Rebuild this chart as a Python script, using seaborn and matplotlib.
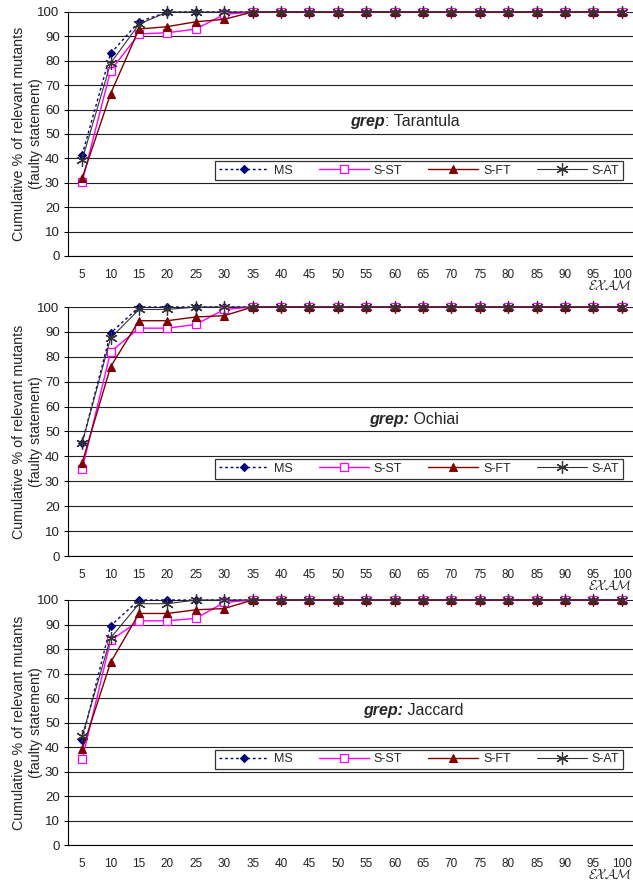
import numpy as np
import pandas as pd
import matplotlib
matplotlib.use("Agg")
import matplotlib.pyplot as plt
import seaborn as sns

# EXAM thresholds (categories on the x axis)
exam = [5, 10, 15, 20, 25, 30, 35, 40, 45, 50, 55, 60, 65, 70, 75, 80, 85, 90, 95, 100]
tail = [100] * 13

# cumulative % of relevant mutants, first 7 thresholds
tarantula_ms = [41.5, 83, 96, 100, 100, 100, 100] + tail
tarantula_sst = [30.5, 76, 91, 91.5, 93, 99, 100] + tail
tarantula_sft = [32, 66.5, 93, 94, 96, 97, 100] + tail
tarantula_sat = [39.5, 79, 95, 100, 100, 100, 100] + tail

ochiai_ms = [45.5, 89.5, 100, 100, 100, 100, 100] + tail
ochiai_sst = [35, 82, 91.5, 91.5, 93, 99, 100] + tail
ochiai_sft = [37.5, 76, 94.5, 94.5, 96, 96.5, 100] + tail
ochiai_sat = [45.5, 87.5, 99, 99, 100, 100, 100] + tail

jaccard_ms = [43, 89.5, 100, 100, 100, 100, 100] + tail
jaccard_sst = [35, 83.5, 91.5, 91.5, 92.5, 99, 100] + tail
jaccard_sft = [39, 74.5, 94.5, 94.5, 96, 96.5, 100] + tail
jaccard_sat = [44.5, 84.5, 98.5, 98.5, 100, 100, 100] + tail

series_names = ["MS", "S-ST", "S-FT", "S-AT"]
panels = [
    ("Tarantula", ": Tarantula", [tarantula_ms, tarantula_sst, tarantula_sft, tarantula_sat]),
    ("Ochiai", " Ochiai", [ochiai_ms, ochiai_sst, ochiai_sft, ochiai_sat]),
    ("Jaccard", " Jaccard", [jaccard_ms, jaccard_sst, jaccard_sft, jaccard_sat]),
]

styles = {
    "MS": dict(color="#000080", marker="D", linestyle=(0, (2, 2)), markersize=4.5,
               linewidth=1.0, markeredgewidth=0.8),
    "S-ST": dict(color="#ff00ff", marker="s", linestyle="-", markersize=5.5,
                 linewidth=1.0, markerfacecolor="white", markeredgewidth=0.9),
    "S-FT": dict(color="#800000", marker="^", linestyle="-", markersize=6,
                 linewidth=1.0, markeredgewidth=0.8),
    "S-AT": dict(color="#333333", marker=(6, 2, 0), linestyle="-", markersize=9,
                 linewidth=0.8, markeredgewidth=0.9),
}

sns.set_theme(style="white")
plt.rcParams["font.family"] = ["Liberation Sans", "DejaVu Sans"]

fig = plt.figure(figsize=(6.33, 8.88), dpi=100)
W, H = 633, 888
# (top, bottom) of each plot area in pixels
boxes = [(12, 256), (307, 556), (600, 845)]
left_px, right_px = 68, 636
# "grep" split point (axes fraction) per panel
splits = [0.558, 0.556, 0.545]

for (name, suffix, data), (top, bottom), split in zip(panels, boxes, splits):
    ax = fig.add_axes([left_px / W, 1 - bottom / H, (right_px - left_px) / W, (bottom - top) / H])
    for sname, vals in zip(series_names, data):
        df = pd.DataFrame({"EXAM": exam, "pct": vals})
        sns.pointplot(data=df, x="EXAM", y="pct", errorbar=None, ax=ax,
                      label=sname, clip_on=False, **styles[sname])

    ax.set_ylim(0, 100)
    ax.set_xlim(-0.5, len(exam) - 0.5)
    ax.set_yticks(np.arange(0, 101, 10))
    ax.set_xticks(range(len(exam)))
    ax.set_xticklabels([str(e) for e in exam])
    ax.set_xticks(np.arange(-0.5, len(exam), 1), minor=True)
    ax.tick_params(axis="x", which="major", length=0, labelsize=8.5, pad=9, colors="#222222")
    ax.tick_params(axis="x", which="minor", length=4, width=0.8, color="black", direction="out")
    ax.tick_params(axis="y", which="major", length=3, width=0.8, color="black",
                   direction="out", labelsize=9.5, labelcolor="#222222", left=True, pad=3)
    ax.yaxis.grid(True, color="#222222", linewidth=0.8)
    ax.xaxis.grid(False)
    ax.set_axisbelow(True)
    for s in ["top", "right"]:
        ax.spines[s].set_visible(False)
    for s in ["left", "bottom"]:
        ax.spines[s].set_color("black")
        ax.spines[s].set_linewidth(0.8)

    ax.set_xlabel("")
    ax.set_ylabel("Cumulative % of relevant mutants\n(faulty statement)",
                  fontsize=10.3, linespacing=1.25)
    ax.yaxis.set_label_coords(-0.044, 0.5)

    # panel caption
    if name == "Tarantula":
        ax.text(split, 0.55, "grep", transform=ax.transAxes, ha="right", va="center",
                fontsize=11.5, fontweight="bold", fontstyle="italic")
        ax.text(split, 0.55, suffix, transform=ax.transAxes, ha="left", va="center",
                fontsize=11.5)
    else:
        ax.text(split + 0.045, 0.55, "grep:", transform=ax.transAxes, ha="right", va="center",
                fontsize=11.5, fontweight="bold", fontstyle="italic")
        ax.text(split + 0.045, 0.55, suffix, transform=ax.transAxes, ha="left", va="center",
                fontsize=11.5)

    handles, labels = ax.get_legend_handles_labels()
    leg = ax.legend(handles[:4], labels[:4], ncol=4, loc="center",
                    bbox_to_anchor=(0.259, 0.307, 0.718, 0.086), mode="expand",
                    frameon=True, fancybox=False, edgecolor="black", fontsize=9,
                    handlelength=4, borderaxespad=0, borderpad=0.3, columnspacing=1.0,
                    handletextpad=0.4)
    leg.get_frame().set_linewidth(0.9)

    fig.text(588 / W, 1 - (bottom + 30) / H, r"$\mathcal{EXAM}$", math_fontfamily="cm",
             fontsize=9.5, ha="left", va="center", color="#222222")

fig.savefig("out.png", dpi=100)
